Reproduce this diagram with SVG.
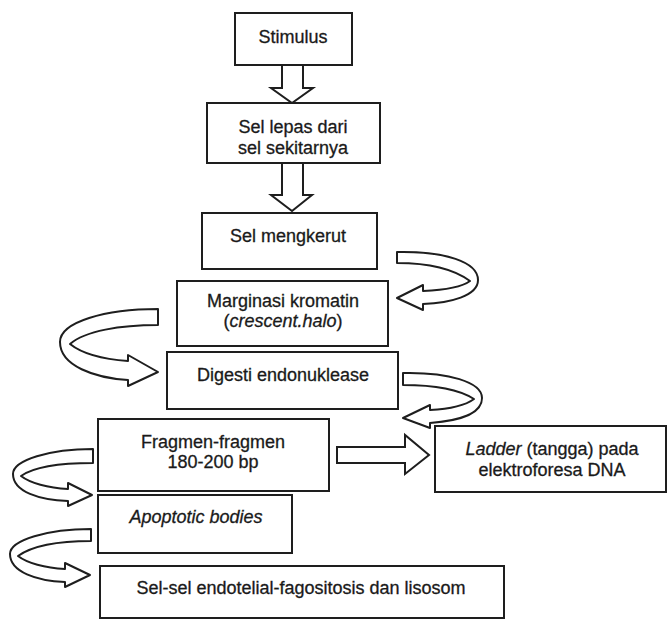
<svg xmlns="http://www.w3.org/2000/svg" width="670" height="620" viewBox="0 0 670 620">
<style>
.box{fill:#fff;stroke:#1e1e1e;stroke-width:2}
.t{font-family:"Liberation Sans",Arial,sans-serif;font-size:18px;fill:#1a1a1a;stroke:#1a1a1a;stroke-width:0.3;text-anchor:middle}
.i{font-style:italic}
.arr{fill:#fff;stroke:#1e1e1e;stroke-width:2;stroke-linejoin:miter}
.rib{fill:#fff;stroke:#1e1e1e;stroke-width:2;stroke-linejoin:round}
</style>
<rect width="670" height="620" fill="#fff"/>
<g id="connectors">
  <polygon class="arr" points="282,65 303,65 303,88 313,88 292,103 271,88 282,88"/>
  <polygon class="arr" points="282,163 303,163 303,195 312,195 292,211 271,195 282,195"/>
  <polygon class="arr" points="337,447 405,447 405,435 429,455 405,474 405,463 337,463"/>
  <path id="curl-a" class="rib" d="M397,252 C445,251 478,262 478,280 C478,296 450,303 423,304 L423,310 L397,298 L423,285 L423,291 C445,290 462,287 470,281 C455,270 430,263 397,263 Z"/>
  <path id="curl-b" class="rib" d="M158,309 C105,309 60,322 60,342 C60,366 95,378 128,380 L128,386 L158,372 L128,355 L128,361 C100,359 80,352 70,344 C85,331 120,325 158,325 Z"/>
  <path id="curl-c" class="rib" d="M403,373 C448,372 482,382 482,398 C482,414 458,421 430,423 L430,428 L403,418 L430,405 L430,410 C450,409 466,405 474,399 C460,390 435,385 403,385 Z"/>
  <path id="curl-d" class="rib" d="M93,449 C50,449 13,460 13,474 C13,492 40,500 68,501 L68,506 L92,495 L68,483 L68,489 C48,488 30,483 21,476 C35,466 60,463 93,463 Z"/>
  <path id="curl-e" class="rib" d="M91,529 C48,529 10,540 10,554 C10,572 37,581 65,582 L65,587 L90,575 L65,563 L65,569 C45,568 27,563 18,556 C32,546 58,541 91,541 Z"/>
</g>
<g id="stimulus">
  <rect class="box" x="235" y="13" width="117" height="52"/>
  <text class="t" x="293" y="43">Stimulus</text>
</g>
<g id="sel-lepas">
  <rect class="box" x="207" y="103" width="173" height="60"/>
  <text class="t" x="293" y="133">Sel lepas dari</text>
  <text class="t" x="293" y="154">sel sekitarnya</text>
</g>
<g id="sel-mengkerut">
  <rect class="box" x="202" y="213" width="175" height="56"/>
  <text class="t" x="288" y="242">Sel mengkerut</text>
</g>
<g id="marginasi">
  <rect class="box" x="177" y="281" width="211" height="65"/>
  <text class="t" x="283" y="307">Marginasi kromatin</text>
  <text class="t" x="283" y="327">(<tspan class="i">crescent.halo</tspan>)</text>
</g>
<g id="digesti">
  <rect class="box" x="167" y="352" width="231" height="57"/>
  <text class="t" x="283" y="381">Digesti endonuklease</text>
</g>
<g id="fragmen">
  <rect class="box" x="98" y="419" width="231" height="72"/>
  <text class="t" x="213" y="448">Fragmen-fragmen</text>
  <text class="t" x="213" y="468">180-200 bp</text>
</g>
<g id="ladder">
  <rect class="box" x="435" y="426" width="231" height="66"/>
  <text class="t" x="552" y="455"><tspan class="i">Ladder</tspan> (tangga) pada</text>
  <text class="t" x="552" y="476">elektroforesa DNA</text>
</g>
<g id="apoptotic">
  <rect class="box" x="98" y="495" width="194" height="58"/>
  <text class="t i" x="196" y="523">Apoptotic bodies</text>
</g>
<g id="sel-sel">
  <rect class="box" x="100" y="566" width="404" height="52"/>
  <text class="t" x="301" y="594">Sel-sel endotelial-fagositosis dan lisosom</text>
</g>
</svg>
